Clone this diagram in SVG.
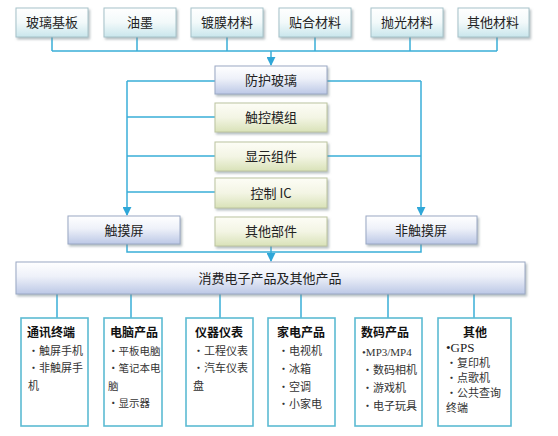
<svg xmlns="http://www.w3.org/2000/svg" width="558" height="436" viewBox="0 0 558 436">
<defs>
<linearGradient id="gTop" x1="0" y1="0" x2="0" y2="1"><stop offset="0" stop-color="#ffffff"/><stop offset="0.5" stop-color="#f2f9fa"/><stop offset="1" stop-color="#c9e6ec"/></linearGradient>
<linearGradient id="gBlue" x1="0" y1="0" x2="0" y2="1"><stop offset="0" stop-color="#ffffff"/><stop offset="0.45" stop-color="#eef1f9"/><stop offset="1" stop-color="#bcc8e6"/></linearGradient>
<linearGradient id="gGreen" x1="0" y1="0" x2="0" y2="1"><stop offset="0" stop-color="#fdfdf6"/><stop offset="0.5" stop-color="#f3f5e4"/><stop offset="1" stop-color="#d9e2b8"/></linearGradient>
<filter id="sh" x="-10%" y="-10%" width="130%" height="140%"><feDropShadow dx="1.5" dy="2" stdDeviation="1" flood-color="#7a8a90" flood-opacity="0.55"/></filter>
<marker id="arr" viewBox="0 0 10 10" refX="9" refY="5" markerWidth="6" markerHeight="6" orient="auto"><path d="M0,0 L10,5 L0,10 z" fill="#2fa7d8"/></marker>
<style>
.top{fill:url(#gTop);stroke:#a6c2c9;stroke-width:1;filter:url(#sh)}
.blue{fill:url(#gBlue);stroke:#9aa8c4;stroke-width:1;filter:url(#sh)}
.green{fill:url(#gGreen);stroke:#bcc49f;stroke-width:1;filter:url(#sh)}
.sub{fill:#ffffff;stroke:#5cbbd3;stroke-width:1.6}
.ln{fill:none;stroke:#3aaed8;stroke-width:1.5}
text{font-family:"Noto Sans CJK SC","Noto Sans",sans-serif;fill:#222}
.lab{font-size:13px;text-anchor:middle}
.ttl{font-size:12px;font-weight:bold;text-anchor:middle;fill:#111}
.it{font-size:11px;fill:#333}
.sm{font-size:10.5px}
.ser{font-family:"Liberation Serif","Noto Sans CJK SC",serif}
</style>
</defs>

<g id="connectors">
<path class="ln" d="M52,37 V51 M137,37 V51 M227,37 V51 M315,37 V51 M410,37 V51 M497,37 V51 M52,51 H497"/>
<path class="ln" d="M271,51 V65" marker-end="url(#arr)"/>
<path class="ln" d="M215,81 H127 M215,117 H127 M215,156 H127 M215,192 H127"/>
<path class="ln" d="M127,81 V215" marker-end="url(#arr)"/>
<path class="ln" d="M327,81 H421 M327,156 H421"/>
<path class="ln" d="M421,81 V215" marker-end="url(#arr)"/>
<path class="ln" d="M127,244 V252 H421 V244"/>
<path class="ln" d="M271,246 V261" marker-end="url(#arr)"/>
<path class="ln" d="M57,294 V318 M131,294 V318 M220,294 V318 M301,294 V318 M388,294 V318 M474,294 V318"/>
</g>

<g id="n-boli"><rect class="top" x="16" y="8" width="72" height="29"/><text class="lab" x="52" y="27">玻璃基板</text></g>
<g id="n-youmo"><rect class="top" x="104" y="8" width="72" height="29"/><text class="lab" x="140" y="27">油墨</text></g>
<g id="n-dumo"><rect class="top" x="191" y="8" width="72" height="29"/><text class="lab" x="227" y="27">镀膜材料</text></g>
<g id="n-tiehe"><rect class="top" x="279" y="8" width="72" height="29"/><text class="lab" x="315" y="27">贴合材料</text></g>
<g id="n-paoguang"><rect class="top" x="371" y="8" width="72" height="29"/><text class="lab" x="407" y="27">抛光材料</text></g>
<g id="n-qita"><rect class="top" x="458" y="8" width="71" height="29"/><text class="lab" x="493" y="27">其他材料</text></g>

<g id="n-fanghu"><rect class="blue" x="215" y="66" width="112" height="28"/><text class="lab" x="271" y="85">防护玻璃</text></g>
<g id="n-chukong"><rect class="green" x="215" y="103" width="112" height="29"/><text class="lab" x="271" y="122">触控模组</text></g>
<g id="n-xianshi"><rect class="green" x="215" y="142" width="112" height="29"/><text class="lab" x="271" y="161">显示组件</text></g>
<g id="n-kongzhi"><rect class="green" x="215" y="178" width="112" height="30"/><text class="lab" x="271" y="198">控制 IC</text></g>
<g id="n-qitabj"><rect class="green" x="215" y="217" width="112" height="29"/><text class="lab" x="271" y="236">其他部件</text></g>

<g id="n-chumo"><rect class="blue" x="68" y="216" width="112" height="28"/><text class="lab" x="124" y="235">触摸屏</text></g>
<g id="n-feichumo"><rect class="blue" x="366" y="216" width="111" height="28"/><text class="lab" x="421" y="235">非触摸屏</text></g>

<g id="n-xiaofei"><rect class="blue" x="16" y="262" width="509" height="32"/><text class="lab" x="270" y="283">消费电子产品及其他产品</text></g>

<g id="n-tongxun"><rect class="sub" x="21" y="318" width="67" height="108"/>
<text class="ttl" x="51" y="337">通讯终端</text>
<text class="it" x="28" y="355">•触屏手机</text>
<text class="it" x="28" y="372">•非触屏手</text>
<text class="it" x="28" y="390">机</text></g>

<g id="n-diannao"><rect class="sub" x="104" y="318" width="58" height="108"/>
<text class="ttl" x="134" y="337">电脑产品</text>
<text class="it sm" x="108" y="355">•平板电脑</text>
<text class="it sm" x="108" y="372">•笔记本电</text>
<text class="it sm" x="108" y="390">脑</text>
<text class="it sm" x="108" y="407">•显示器</text></g>

<g id="n-yiqi"><rect class="sub" x="186" y="318" width="67" height="108"/>
<text class="ttl" x="219" y="337">仪器仪表</text>
<text class="it" x="193" y="355">•工程仪表</text>
<text class="it" x="193" y="372">•汽车仪表</text>
<text class="it" x="193" y="390">盘</text></g>

<g id="n-jiadian"><rect class="sub" x="268" y="318" width="67" height="108"/>
<text class="ttl" x="301" y="337">家电产品</text>
<text class="it" x="278" y="355">•电视机</text>
<text class="it" x="278" y="373">•冰箱</text>
<text class="it" x="278" y="391">•空调</text>
<text class="it" x="278" y="408">•小家电</text></g>

<g id="n-shuma"><rect class="sub" x="355" y="318" width="67" height="108"/>
<text class="ttl" x="385" y="337">数码产品</text>
<text class="it ser" x="362" y="356">•MP3/MP4</text>
<text class="it" x="362" y="374">•数码相机</text>
<text class="it" x="362" y="392">•游戏机</text>
<text class="it" x="362" y="410">•电子玩具</text></g>

<g id="n-qitachanpin"><rect class="sub" x="438" y="318" width="73" height="108"/>
<text class="ttl" x="475" y="337">其他</text>
<text class="ser" x="446" y="352" style="font-size:13px">•GPS</text>
<text class="it" x="446" y="367">•复印机</text>
<text class="it" x="446" y="382">•点歌机</text>
<text class="it" x="446" y="397">•公共查询</text>
<text class="it" x="446" y="412">终端</text></g>
</svg>
